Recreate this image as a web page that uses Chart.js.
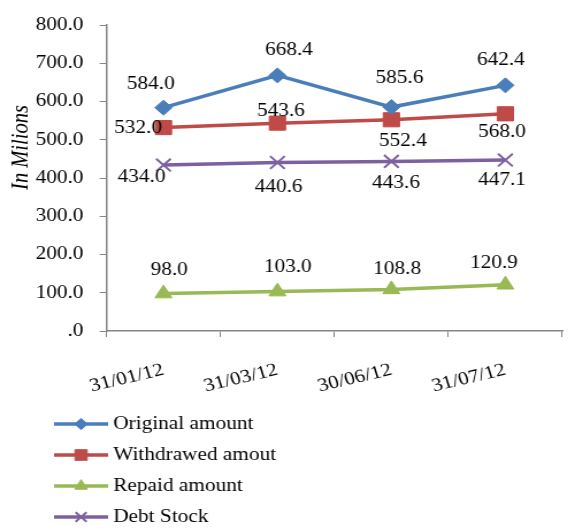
<!DOCTYPE html>
<html>
<head>
<meta charset="utf-8">
<script src="https://cdn.jsdelivr.net/npm/chart.js@4/dist/chart.umd.min.js"></script>
<style>
  body { margin: 0; background: #fff; overflow: hidden; }
  /* il grafico originale e' leggermente allargato in orizzontale */
  canvas { display: block; transform: scaleX(1.15); transform-origin: 0 0; }
</style>
</head>
<body>
<canvas id="debtChart" width="500" height="528"></canvas>
<script>
// dati
const dates = ['31/01/12', '31/03/12', '30/06/12', '31/07/12'];
const originalAmount = [584.0, 668.4, 585.6, 642.4];
const withdrawedAmount = [532.0, 543.6, 552.4, 568.0];
const repaidAmount = [98.0, 103.0, 108.8, 120.9];
const debtStock = [434.0, 440.6, 443.6, 447.1];
const yTicks = [0, 100, 200, 300, 400, 500, 600, 700, 800];

const FONT = "'Liberation Serif', 'Times New Roman', serif";

// posizione delle etichette rispetto al punto (unita' del canvas)
const labelOffsets = {
    original: [[-11, -24], [10, -25], [7, -29], [-4, -25]],
    withdrawed: [[-22, 1], [3, -12], [10, 21], [-3, 18]],
    repaid: [[5, -23], [9, -24], [5, -20], [-10, -22]],
    debt: [[-19, 12], [1, 25], [4, 22], [-3, 20]]
};

// etichette dei valori
const valueLabels = {
    id: 'valueLabels',
    afterDatasetsDraw(chart) {
        const ctx = chart.ctx;
        ctx.save();
        ctx.font = '18.5px ' + FONT;
        ctx.fillStyle = '#000';
        ctx.textAlign = 'center';
        ctx.textBaseline = 'middle';
        chart.data.datasets.forEach((ds, i) => {
            const meta = chart.getDatasetMeta(i);
            meta.data.forEach((pt, j) => {
                const off = ds.labelOffsets[j];
                ctx.fillText(ds.data[j].toFixed(1), pt.x + off[0], pt.y + off[1]);
            });
        });
        ctx.restore();
    }
};

// titolo asse y
const yTitle = {
    id: 'yTitle',
    afterDraw(chart) {
        const ctx = chart.ctx;
        ctx.save();
        ctx.translate(19, 147.5);
        ctx.rotate(-Math.PI / 2);
        ctx.font = 'italic 20.5px ' + FONT;
        ctx.fillStyle = '#000';
        ctx.textAlign = 'center';
        ctx.textBaseline = 'middle';
        ctx.fillText('In Milions', 0, 0);
        ctx.restore();
    }
};

// legenda verticale in basso
const stackedLegend = {
    id: 'stackedLegend',
    afterDraw(chart) {
        const ctx = chart.ctx;
        ctx.save();
        chart.data.datasets.forEach((ds, i) => {
            const y = 424 + 31 * i;
            ctx.strokeStyle = ds.borderColor;
            ctx.lineWidth = ds.borderWidth;
            ctx.beginPath();
            ctx.moveTo(47, y);
            ctx.lineTo(94, y);
            ctx.stroke();
            ctx.fillStyle = ds.backgroundColor;
            ctx.strokeStyle = ds.borderColor;
            ctx.lineWidth = ds.pointBorderWidth;
            Chart.helpers.drawPoint(ctx, {
                pointStyle: ds.pointStyle,
                radius: ds.pointRadius * 0.75,
                rotation: 0,
                borderWidth: ds.pointBorderWidth
            }, 70.5, y);
            ctx.font = '18.5px ' + FONT;
            ctx.fillStyle = '#000';
            ctx.textAlign = 'left';
            ctx.textBaseline = 'middle';
            ctx.fillText(ds.label, 98.5, y);
        });
        ctx.restore();
    }
};

function makeSeries(label, data, color, style, radius, offsets) {
    return {
        label: label,
        data: data,
        borderColor: color,
        backgroundColor: color,
        borderWidth: 3.5,
        pointStyle: style,
        pointRadius: radius,
        pointBorderWidth: style === 'crossRot' ? 2 : 1,
        pointBackgroundColor: color,
        pointBorderColor: color,
        tension: 0,
        labelOffsets: offsets
    };
}

new Chart(document.getElementById('debtChart').getContext('2d'), {
    type: 'line',
    data: {
        labels: dates,
        datasets: [
            makeSeries('Original amount', originalAmount, '#4a7ebb', 'rectRot', 7.5, labelOffsets.original),
            makeSeries('Withdrawed amout', withdrawedAmount, '#be4b48', 'rect', 10, labelOffsets.withdrawed),
            makeSeries('Repaid amount', repaidAmount, '#98b954', 'triangle', 8.5, labelOffsets.repaid),
            makeSeries('Debt Stock', debtStock, '#7d60a0', 'crossRot', 9, labelOffsets.debt)
        ]
    },
    options: {
        responsive: false,
        animation: false,
        layout: { padding: { top: 19, right: 1.7, bottom: 0, left: 0 } },
        plugins: {
            legend: { display: false },
            tooltip: { enabled: false }
        },
        scales: {
            x: {
                offset: true,
                afterFit(scale) { scale.height = 197; },
                grid: {
                    offset: true,
                    drawOnChartArea: false,
                    tickLength: 6,
                    color: '#868686'
                },
                border: { color: '#868686', width: 1.5 },
                ticks: {
                    color: '#000',
                    font: { family: FONT, size: 18.5 },
                    minRotation: 15,
                    maxRotation: 15,
                    padding: 22
                }
            },
            y: {
                min: 0,
                max: 800,
                afterFit(scale) { scale.width = 92.6; },
                afterBuildTicks(scale) {
                    scale.ticks = yTicks.map(v => ({ value: v }));
                },
                grid: {
                    drawOnChartArea: false,
                    tickLength: 6,
                    color: '#868686'
                },
                border: { color: '#868686', width: 1.5 },
                ticks: {
                    color: '#000',
                    font: { family: FONT, size: 18.5 },
                    padding: 14,
                    callback: v => v === 0 ? '.0' : v.toFixed(1)
                }
            }
        }
    },
    plugins: [valueLabels, yTitle, stackedLegend]
});
</script>
</body>
</html>
